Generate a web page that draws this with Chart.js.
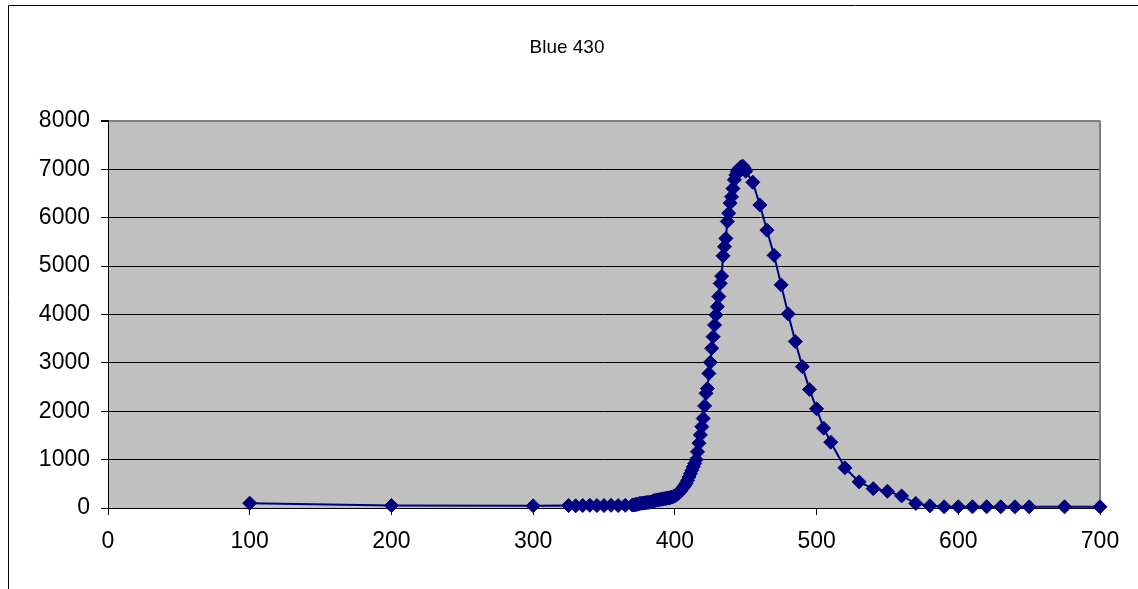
<!DOCTYPE html>
<html>
<head>
<meta charset="utf-8">
<script src="https://cdn.jsdelivr.net/npm/chart.js@4.4.1/dist/chart.umd.min.js"></script>
<style>
    body { margin: 0; background: #ffffff; }
    canvas { display: block; }
</style>
</head>
<body>
<canvas id="chart" width="1138" height="589"></canvas>
<script>
// wavelength (nm) and intensity
const wavelength = [
    100, 200, 300,
    325, 330, 335, 340, 345, 350, 355, 360, 365,
    370, 371, 372, 373, 374, 375, 376, 377, 378, 379,
    380, 381, 382, 383, 384, 385, 386, 387, 388, 389,
    390, 391, 392, 393, 394, 395, 396, 397, 398, 399,
    400, 401, 402, 403, 404, 405, 406, 407, 408, 409,
    410, 411, 412, 413, 414, 415, 416, 417, 418, 419,
    420, 421, 422, 423, 424, 425, 426, 427, 428, 429,
    430, 431, 432, 433, 434, 435, 436, 437, 438, 439,
    440, 441, 442, 443, 444, 445, 446, 447, 448, 449, 450,
    455, 460, 465, 470, 475, 480, 485, 490, 495, 500, 505, 510,
    520, 530, 540, 550, 560, 570, 580, 590, 600, 610, 620, 630, 640, 650,
    675, 700
];
const intensity = [
    100, 50, 45,
    50, 45, 50, 55, 50, 50, 55, 50, 55,
    60, 62, 70, 72, 80, 95, 96, 100, 102, 108,
    112, 115, 118, 125, 130, 150, 155, 160, 168, 172,
    180, 183, 190, 194, 200, 205, 210, 218, 228, 238,
    250, 268, 290, 318, 350, 390, 428, 470, 512, 570,
    640, 708, 780, 850, 920, 1000, 1160, 1340, 1510, 1680,
    1850, 2110, 2370, 2470, 2780, 3010, 3300, 3540, 3780, 3990,
    4160, 4370, 4640, 4790, 5210, 5400, 5570, 5920, 6090, 6300,
    6430, 6600, 6780, 6880, 6950, 7000, 7030, 7050, 7060, 7020, 6960,
    6730, 6260, 5740, 5220, 4610, 4010, 3440, 2920, 2450, 2050, 1650, 1360,
    830, 540, 400, 345, 250, 95, 45, 25, 25, 25, 25, 25, 25, 25,
    25, 25
];
const chartTitle = 'Blue 430';
const xTicks = [0, 100, 200, 300, 400, 500, 600, 700];
const yTicks = [0, 1000, 2000, 3000, 4000, 5000, 6000, 7000, 8000];

const frame = {
    id: 'frame',
    beforeDraw(chart) {
        const ctx = chart.ctx;
        const a = chart.chartArea;
        ctx.save();
        ctx.fillStyle = '#ffffff';
        ctx.fillRect(0, 0, chart.width, chart.height);
        // outer chart border (cropped on right/bottom)
        ctx.strokeStyle = '#000000';
        ctx.lineWidth = 1;
        ctx.beginPath();
        ctx.moveTo(8.5, chart.height);
        ctx.lineTo(8.5, 5.5);
        ctx.lineTo(chart.width, 5.5);
        ctx.stroke();
        // plot area
        ctx.fillStyle = '#c0c0c0';
        ctx.fillRect(a.left, a.top, a.right - a.left, a.bottom - a.top);
        ctx.restore();
    },
    beforeDatasetsDraw(chart) {
        const ctx = chart.ctx;
        const a = chart.chartArea;
        ctx.save();
        ctx.strokeStyle = '#808080';
        ctx.lineWidth = 2;
        ctx.beginPath();
        ctx.moveTo(a.right, a.top);
        ctx.lineTo(a.right, a.bottom);
        ctx.stroke();
        ctx.restore();
    }
};

function setLineData(xs, ys) {
    const points = xs.map((x, i) => ({ x: x, y: ys[i] }));
    return {
        datasets: [{
            data: points,
            borderColor: '#000080',
            backgroundColor: '#000080',
            borderWidth: 2,
            pointStyle: 'rectRot',
            pointRadius: 7,
            pointBorderWidth: 1,
            pointBorderColor: '#000080',
            pointBackgroundColor: '#000080',
            tension: 0,
            clip: false
        }]
    };
}

function drawLineChart(lineData, el) {
    const tickFont = { family: '"Liberation Sans", Arial, sans-serif', size: 23 };
    const config = {
        type: 'line',
        data: lineData,
        options: {
            responsive: false,
            animation: false,
            layout: {
                // left/right chosen so the title centres where the original does
                padding: { left: 34, right: 38, top: 0, bottom: 0 }
            },
            scales: {
                x: {
                    type: 'linear',
                    min: xTicks[0],
                    max: xTicks[xTicks.length - 1],
                    afterBuildTicks: (s) => { s.ticks = xTicks.map(v => ({ value: v })); },
                    afterFit: (s) => { s.height = 81; },
                    grid: {
                        drawOnChartArea: false,
                        drawTicks: true,
                        tickLength: 7,
                        tickColor: '#000000'
                    },
                    border: { display: true, color: '#000000', width: 1 },
                    ticks: {
                        color: '#000000',
                        font: tickFont,
                        padding: 13,
                        maxRotation: 0,
                        autoSkip: false,
                        callback: (value) => String(value)
                    }
                },
                y: {
                    min: yTicks[0],
                    max: yTicks[yTicks.length - 1],
                    afterBuildTicks: (s) => { s.ticks = yTicks.map(v => ({ value: v })); },
                    afterFit: (s) => { s.width = 74; },
                    grid: {
                        color: (c) => (c.tick && c.tick.value === 8000) ? '#808080' : '#000000',
                        lineWidth: (c) => (c.tick && c.tick.value === 8000) ? 2 : 1,
                        drawTicks: true,
                        tickLength: 7,
                        tickColor: '#000000'
                    },
                    border: { display: true, color: '#000000', width: 1 },
                    ticks: {
                        color: '#000000',
                        font: tickFont,
                        padding: 11,
                        autoSkip: false,
                        callback: (value) => String(value)
                    }
                }
            },
            plugins: {
                legend: { display: false },
                tooltip: { enabled: false },
                title: {
                    display: true,
                    text: chartTitle,
                    color: '#000000',
                    font: { family: '"Liberation Sans", Arial, sans-serif', size: 19, weight: 'normal' },
                    padding: { top: 36, bottom: 62 }
                }
            }
        },
        plugins: [frame]
    };

    const lineChart = new Chart(el, config);
}

drawLineChart(setLineData(wavelength, intensity), document.getElementById('chart'));
</script>
</body>
</html>
